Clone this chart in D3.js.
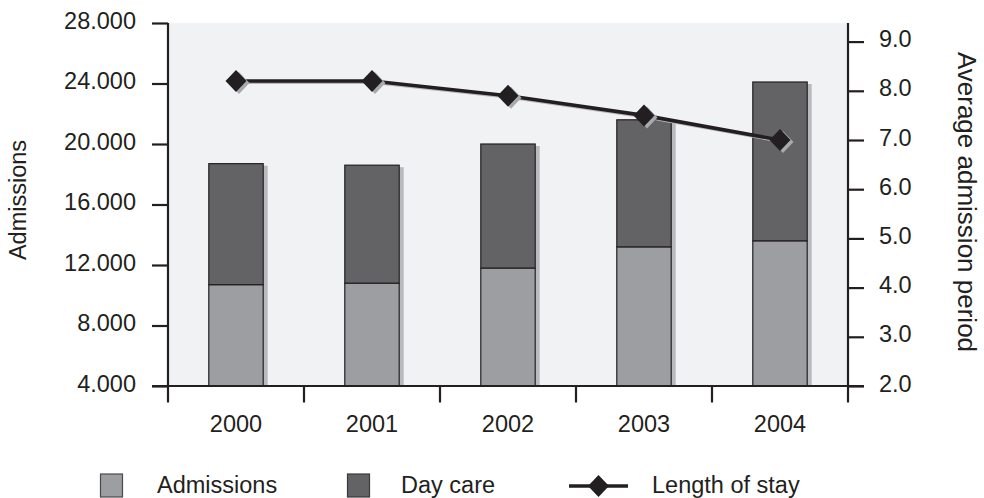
<!DOCTYPE html>
<html>
<head>
<meta charset="utf-8">
<script src="https://cdn.jsdelivr.net/npm/d3@7/dist/d3.min.js"></script>
<style>
  body { margin: 0; background: #fff; }
  svg text { font-family: "Liberation Sans", Arial, Helvetica, sans-serif; fill: #231f20; }
</style>
</head>
<body>
<svg id="chart" width="984" height="498"></svg>
<script>
const years = ["2000", "2001", "2002", "2003", "2004"];
const admissions = [10700, 10800, 11800, 13200, 13600];
const dayCare = [8000, 7800, 8200, 8400, 10500];
const lengthOfStay = [8.2, 8.2, 7.9, 7.5, 7.0];
const leftTicks = [4000, 8000, 12000, 16000, 20000, 24000, 28000];
const rightTicks = [2, 3, 4, 5, 6, 7, 8, 9];

const svg = d3.select("#chart");
const ink = "#231f20";
const FS = 23.5;
const m = { left: 168, right: 848, top: 23, bottom: 386 };

const x = d3.scaleBand().domain(years).range([m.left, m.right]).paddingInner(0.6).paddingOuter(0.3);
const xEdge = d3.scaleBand().domain(years).range([m.left, m.right]);
const yL = d3.scaleLinear().domain([4000, 28000]).range([m.bottom, m.top]);
const yR = d3.scaleLinear().domain([2, 9]).range([m.bottom, 41.6]);

const fmtL = d => d3.format(",")(d).replace(/,/g, ".");
const fmtR = d3.format(".1f");

// a slightly tall diamond marker
const tallDiamond = {
  draw(ctx, size) {
    const w = Math.sqrt(size) / 2, h = w * 1.05;
    ctx.moveTo(0, -h); ctx.lineTo(w, 0); ctx.lineTo(0, h); ctx.lineTo(-w, 0); ctx.closePath();
  }
};
const diamond = d3.symbol().type(tallDiamond).size(441);

// plot background
svg.append("rect")
  .attr("x", m.left).attr("y", m.top)
  .attr("width", m.right - m.left).attr("height", m.bottom - m.top)
  .attr("fill", "#f1f2f4");

// stacked bars
const stacks = years.map((yr, i) => ({ yr, a: admissions[i], d: dayCare[i] }));
const bars = svg.append("g");
stacks.forEach(s => {
  const bx = x(s.yr), bw = x.bandwidth();
  const top = yL(s.a + s.d);
  // drop shadow on the right edge
  bars.append("rect")
    .attr("x", bx + bw).attr("y", top + 2)
    .attr("width", 4.5).attr("height", m.bottom - top - 2)
    .attr("fill", "#b9babd");
  bars.append("rect")
    .attr("x", bx).attr("y", yL(s.a))
    .attr("width", bw).attr("height", m.bottom - yL(s.a))
    .attr("fill", "#9d9ea2").attr("stroke", ink).attr("stroke-width", 1.2);
  bars.append("rect")
    .attr("x", bx).attr("y", top)
    .attr("width", bw).attr("height", yL(s.a) - top)
    .attr("fill", "#636365").attr("stroke", ink).attr("stroke-width", 1.2);
});

// axes
const axisStyle = g => {
  g.attr("font-size", FS).attr("font-family", null);
  g.selectAll("path, line").attr("stroke", ink).attr("stroke-width", 2.2);
  g.selectAll("text").attr("fill", ink).attr("dy", "0.22em");
};
svg.append("g")
  .attr("transform", `translate(${m.left},0)`)
  .call(d3.axisLeft(yL).tickValues(leftTicks).tickFormat(fmtL).tickSize(16).tickPadding(16).tickSizeOuter(0))
  .call(axisStyle)
  .call(g => g.select(".domain").attr("d", `M0,${m.top}V${m.bottom}`));
svg.append("g")
  .attr("transform", `translate(${m.right},0)`)
  .call(d3.axisRight(yR).tickValues(rightTicks).tickFormat(fmtR).tickSize(16).tickPadding(15).tickSizeOuter(0))
  .call(axisStyle)
  .call(g => g.select(".domain").attr("d", `M0,${m.top}V${m.bottom}`));

// bottom axis: baseline, band-edge ticks, centred year labels
const bottom = svg.append("g");
bottom.append("line")
  .attr("x1", m.left - 16).attr("x2", m.right + 16)
  .attr("y1", m.bottom).attr("y2", m.bottom)
  .attr("stroke", ink).attr("stroke-width", 2.2);
const edges = years.map(yr => xEdge(yr)).concat([m.right]);
bottom.selectAll("line.edge").data(edges).join("line")
  .attr("class", "edge")
  .attr("x1", d => d).attr("x2", d => d)
  .attr("y1", m.bottom).attr("y2", m.bottom + 16.5)
  .attr("stroke", ink).attr("stroke-width", 2.2);
bottom.selectAll("text").data(years).join("text")
  .attr("x", d => x(d) + x.bandwidth() / 2)
  .attr("y", 432)
  .attr("text-anchor", "middle").attr("font-size", FS)
  .text(d => d);

// length-of-stay line
const pts = years.map((yr, i) => [x(yr) + x.bandwidth() / 2, yR(lengthOfStay[i])]);
svg.append("path")
  .attr("d", d3.line()(pts.map(p => [p[0] + 1.5, p[1] + 1.5])))
  .attr("fill", "none").attr("stroke", "#b5b6b9").attr("stroke-width", 3);
svg.append("path")
  .attr("d", d3.line()(pts))
  .attr("fill", "none").attr("stroke", ink).attr("stroke-width", 3.6);
svg.selectAll("path.shadowMark").data(pts).join("path")
  .attr("class", "shadowMark")
  .attr("transform", p => `translate(${p[0] + 3},${p[1] + 2})`)
  .attr("d", diamond).attr("fill", "#a9aaad");
svg.selectAll("path.mark").data(pts).join("path")
  .attr("class", "mark")
  .attr("transform", p => `translate(${p[0]},${p[1]})`)
  .attr("d", diamond).attr("fill", ink);

// axis titles
svg.append("text")
  .attr("transform", "translate(25.5,200) rotate(-90)")
  .attr("text-anchor", "middle").attr("font-size", FS)
  .text("Admissions");
svg.append("text")
  .attr("transform", "translate(958,202) rotate(90)")
  .attr("text-anchor", "middle").attr("font-size", 26)
  .text("Average admission period");

// legend
const lg = svg.append("g");
const legendY = 486;
lg.append("rect").attr("x", 100.5).attr("y", legendY - 12).attr("width", 22).attr("height", 23)
  .attr("fill", "#9d9ea2").attr("stroke", "#4a4a4c").attr("stroke-width", 1.2);
lg.append("text").attr("x", 157).attr("y", legendY + 7).attr("font-size", FS).text("Admissions");
lg.append("rect").attr("x", 347.5).attr("y", legendY - 12).attr("width", 22).attr("height", 23)
  .attr("fill", "#636365").attr("stroke", "#3a3a3c").attr("stroke-width", 1.2);
lg.append("text").attr("x", 401).attr("y", legendY + 7).attr("font-size", FS).text("Day care");
lg.append("line").attr("x1", 569).attr("x2", 628).attr("y1", legendY).attr("y2", legendY)
  .attr("stroke", ink).attr("stroke-width", 3.6);
lg.append("path").attr("transform", `translate(598.5,${legendY})`)
  .attr("d", diamond).attr("fill", ink);
lg.append("text").attr("x", 652).attr("y", legendY + 7).attr("font-size", FS).text("Length of stay");
</script>
</body>
</html>
